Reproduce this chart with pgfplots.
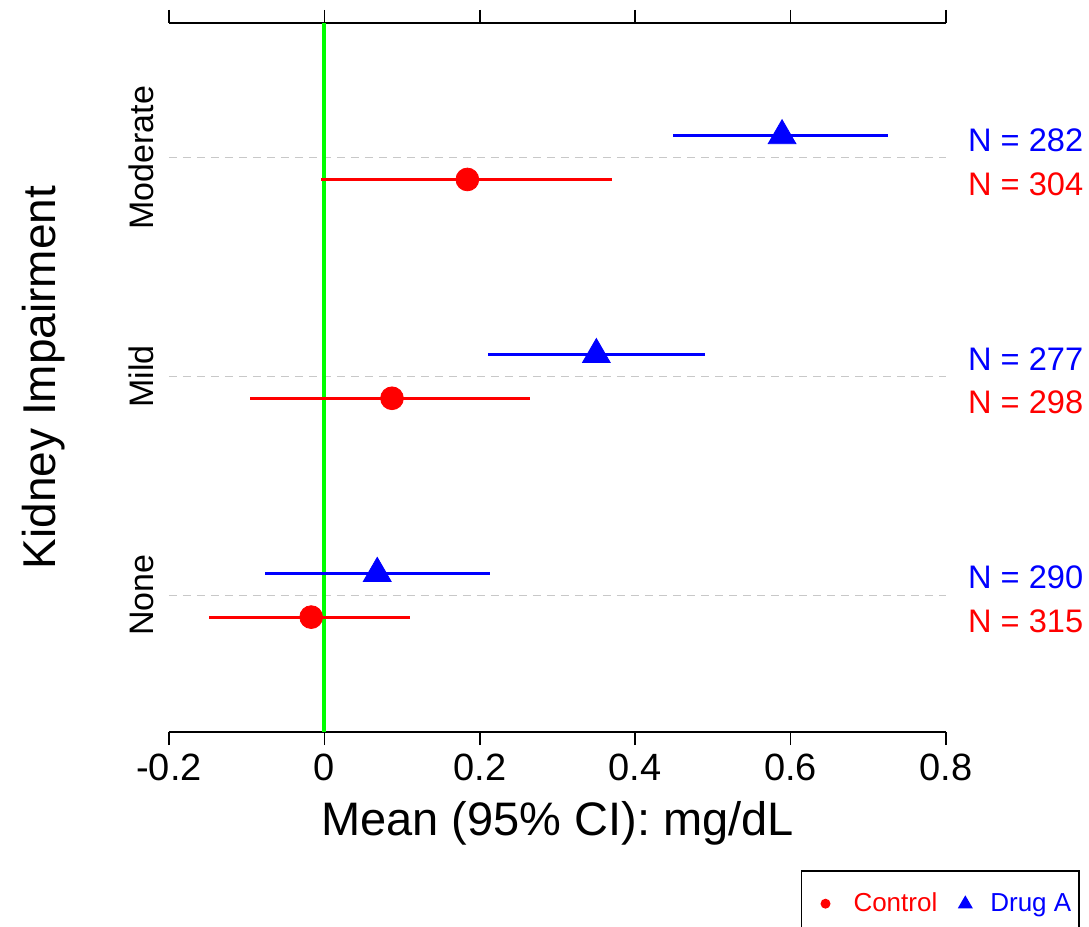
\documentclass[border=0pt]{standalone}
\usepackage{fontspec}
\setmainfont{Liberation Sans}
\usepackage{pgfplots}
\pgfplotsset{compat=1.18}
\usepackage{pgfplotstable}

\definecolor{pgreen}{RGB}{0,255,0}
\definecolor{pblue}{RGB}{0,0,255}
\definecolor{pred}{RGB}{255,0,0}
\definecolor{dgray}{RGB}{200,200,200}

\pgfplotstableread{
y m ep em
1.1 0.068 0.145 0.145
2.1 0.350 0.140 0.139
3.1 0.589 0.136 0.140
}\drugA
\pgfplotstableread{
y m ep em
0.9 -0.017 0.127 0.132
1.9 0.087 0.178 0.183
2.9 0.184 0.186 0.188
}\control

\begin{document}
\begin{tikzpicture}
\useasboundingbox (-84.5pt,-97.5pt) rectangle (460pt,366pt);
\begin{axis}[
  at={(0,0)}, anchor=south west,
  scale only axis, width=388.5pt, height=354.5pt,
  xmin=-0.2, xmax=0.8, ymin=0.375, ymax=3.615,
  separate axis lines,
  axis x line=box, axis y line=box,
  x axis line style={line width=0.8pt, black},
  y axis line style={draw=none},
  xtick={-0.2,0,0.2,0.4,0.6,0.8},
  xticklabels={-0.2,0,0.2,0.4,0.6,0.8},
  xtick pos=both, xticklabel pos=lower,
  tick align=outside,
  major tick length=6.5pt,
  xtick style={line width=0.8pt, black},
  ytick={1,2,3}, yticklabels={None,Mild,Moderate},
  ytick style={draw=none},
  xticklabel style={font=\fontsize{19}{22}\selectfont, yshift=-1pt},
  yticklabel style={font=\fontsize{17}{20}\selectfont, rotate=90, anchor=south},
  yticklabel shift=-2.5pt,
  xlabel={Mean (95\% CI): mg/dL},
  ylabel={Kidney Impairment},
  xlabel style={font=\fontsize{23.5}{26}\selectfont, at={(axis description cs:0.5,-0.129)}, anchor=center},
  ylabel style={font=\fontsize{23}{26}\selectfont, at={(axis description cs:-0.162,0.5)}, anchor=center},
  clip=false,
  legend columns=2,
  legend style={at={(1.1725,-0.1946)}, anchor=north east, draw=black, line width=0.8pt,
    font=\fontsize{13}{15}\selectfont, inner xsep=0pt, inner ysep=9pt,
    /tikz/every even column/.append style={column sep=0pt}},
]
\addplot[dgray, dashed, dash pattern=on 4pt off 3pt, line width=0.6pt, forget plot] coordinates {(-0.2,1) (0.8,1)};
\addplot[dgray, dashed, dash pattern=on 4pt off 3pt, line width=0.6pt, forget plot] coordinates {(-0.2,2) (0.8,2)};
\addplot[dgray, dashed, dash pattern=on 4pt off 3pt, line width=0.6pt, forget plot] coordinates {(-0.2,3) (0.8,3)};
\addplot[pgreen, line width=2pt, forget plot] coordinates {(0,0.375) (0,3.615)};

\addplot[only marks, mark=*, mark size=5.7pt, pred,
  legend image code/.code={\path[draw=none, fill=none] (0pt,-4pt) rectangle (24pt,4pt); \fill[pred, draw=none] (12pt,0pt) circle (2.5pt);},
  error bars/.cd, x dir=both, x explicit, error mark=none,
  error bar style={line width=1.5pt, pred}]
  table[x=m, y=y, x error plus=ep, x error minus=em]{\control};
\addlegendentry{\textcolor{pred}{Control}}
\addplot[only marks, mark=triangle*, mark size=8pt, pblue,
  legend image code/.code={\path[draw=none, fill=none] (0pt,-4pt) rectangle (22.5pt,4pt); \fill[pblue, draw=none] (12pt,4.2pt) -- (15.75pt,-2.3pt) -- (8.25pt,-2.3pt) -- cycle;},
  error bars/.cd, x dir=both, x explicit, error mark=none,
  error bar style={line width=1.5pt, pblue}]
  table[x=m, y=y, x error plus=ep, x error minus=em]{\drugA};
\addlegendentry{\textcolor{pblue}{Drug A}\hspace*{2pt}}

\node[anchor=west, inner sep=0pt, text=pblue, font=\fontsize{16.3}{18}\selectfont] at (axis cs:0.828,3.08) {N = 282};
\node[anchor=west, inner sep=0pt, text=pred, font=\fontsize{16.3}{18}\selectfont] at (axis cs:0.828,2.88) {N = 304};
\node[anchor=west, inner sep=0pt, text=pblue, font=\fontsize{16.3}{18}\selectfont] at (axis cs:0.828,2.08) {N = 277};
\node[anchor=west, inner sep=0pt, text=pred, font=\fontsize{16.3}{18}\selectfont] at (axis cs:0.828,1.88) {N = 298};
\node[anchor=west, inner sep=0pt, text=pblue, font=\fontsize{16.3}{18}\selectfont] at (axis cs:0.828,1.08) {N = 290};
\node[anchor=west, inner sep=0pt, text=pred, font=\fontsize{16.3}{18}\selectfont] at (axis cs:0.828,0.88) {N = 315};
\end{axis}
\end{tikzpicture}
\end{document}
